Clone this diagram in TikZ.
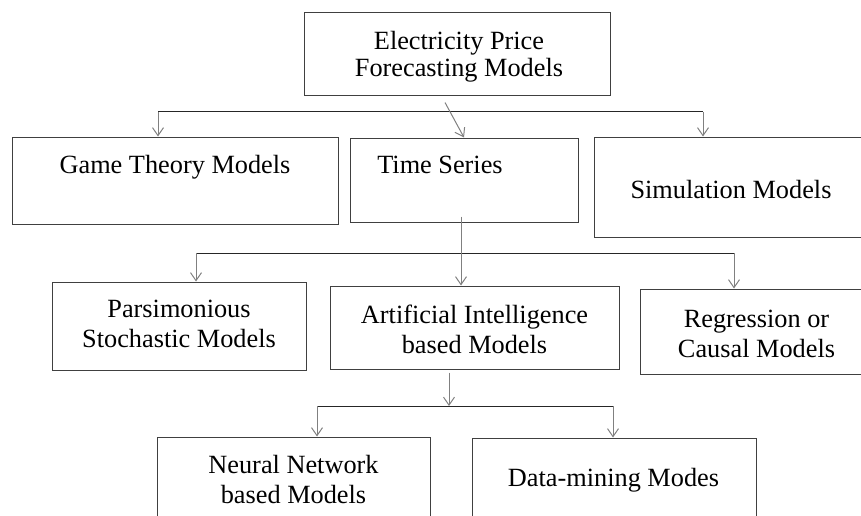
\documentclass[tikz,border=0pt]{standalone}
\usepackage{fontspec}
\setmainfont{Liberation Serif}
\usetikzlibrary{arrows.meta}
\tikzset{
	mbox/.style={draw=black!75, line width=1pt, inner sep=0pt},
	mtext/.style={align=center, inner sep=0pt, font=\fontsize{26.3}{30}\selectfont},
	bus/.style={draw=black!85, line width=1pt},
	arr/.style={draw=black!50, line width=1pt, -{Straight Barb[length=8pt,width=11pt,line width=1pt]}},
}

\begin{document}
\begin{tikzpicture}[x=1pt,y=-1pt]
		%%%%% START %%%%%
		\useasboundingbox (0,0) rectangle (861,516);
		\clip (0,0) rectangle (861,516);
		
		% root
		\node[mbox, minimum width=306pt, minimum height=83pt] (epf) at (457,54.5) {};
		\node[mtext, font=\fontsize{26.3}{27}\selectfont] (epfT) at (459,57) {Electricity Price\\Forecasting Models};
		
		% first level
		\node[mbox, minimum width=326pt, minimum height=87pt] (game) at (175,180.5) {};
		\node[mtext] (gameT) at (175,167) {Game Theory Models};
		\node[mbox, minimum width=228pt, minimum height=84pt] (ts) at (464,180) {};
		\node[mtext] (tsT) at (440,165) {Time Series};
		\node[mbox, minimum width=276pt, minimum height=100pt] (sim) at (732,187) {};
		\node[mtext] (simT) at (731,190) {Simulation Models};
		
		% second level
		\node[mbox, minimum width=254pt, minimum height=88pt] (pars) at (179,326) {};
		\node[mtext] (parsT) at (179,324) {Parsimonious\\Stochastic Models};
		\node[mbox, minimum width=289pt, minimum height=83pt] (ai) at (474.5,327.5) {};
		\node[mtext] (aiT) at (474.5,329) {Artificial Intelligence\\based Models};
		\node[mbox, minimum width=240pt, minimum height=85pt] (reg) at (760,331.5) {};
		\node[mtext] (regT) at (756.5,334) {Regression or\\Causal Models};
		
		% third level
		\node[mbox, minimum width=273pt, minimum height=93pt] (nn) at (293.5,483.5) {};
		\node[mtext] (nnT) at (293.5,479) {Neural Network\\based Models};
		\node[mbox, minimum width=284pt, minimum height=92pt] (dm) at (614,484) {};
		\node[mtext] (dmT) at (613.5,480) {Data-mining Modes};
		
		% connectors, root
		\coordinate (b1L) at (158,112);
		\coordinate (b1R) at (703,112);
		\draw[bus] (b1L) -- (b1R);
		\draw[arr] (b1L) -- (b1L |- game.north);
		\draw[arr] (b1R) -- (b1R |- sim.north);
		\draw[arr] ([xshift=-12pt,yshift=-6pt]epf.south) -- (ts.north);
		
		% connectors, time series
		\coordinate (b2L) at (196,253);
		\coordinate (b2R) at (734,253);
		\coordinate (tsOut) at ([xshift=-3pt,yshift=6pt]ts.south);
		\draw[bus] (b2L) -- (b2R);
		\draw[arr] (tsOut) -- (tsOut |- ai.north);
		\draw[arr] (b2L) -- (b2L |- pars.north);
		\draw[arr] (b2R) -- (b2R |- reg.north);
		
		% connectors, AI
		\coordinate (aiOut) at ([xshift=-25.5pt,yshift=-3pt]ai.south);
		\coordinate (b3L) at (317,406);
		\coordinate (b3R) at (613,406);
		\draw[arr] (aiOut) -- (aiOut |- b3L);
		\draw[bus] (b3L) -- (b3R);
		\draw[arr] (b3L) -- (b3L |- nn.north);
		\draw[arr] (b3R) -- (b3R |- dm.north);
		
		%%%%% END %%%%%
\end{tikzpicture}
\end{document}
